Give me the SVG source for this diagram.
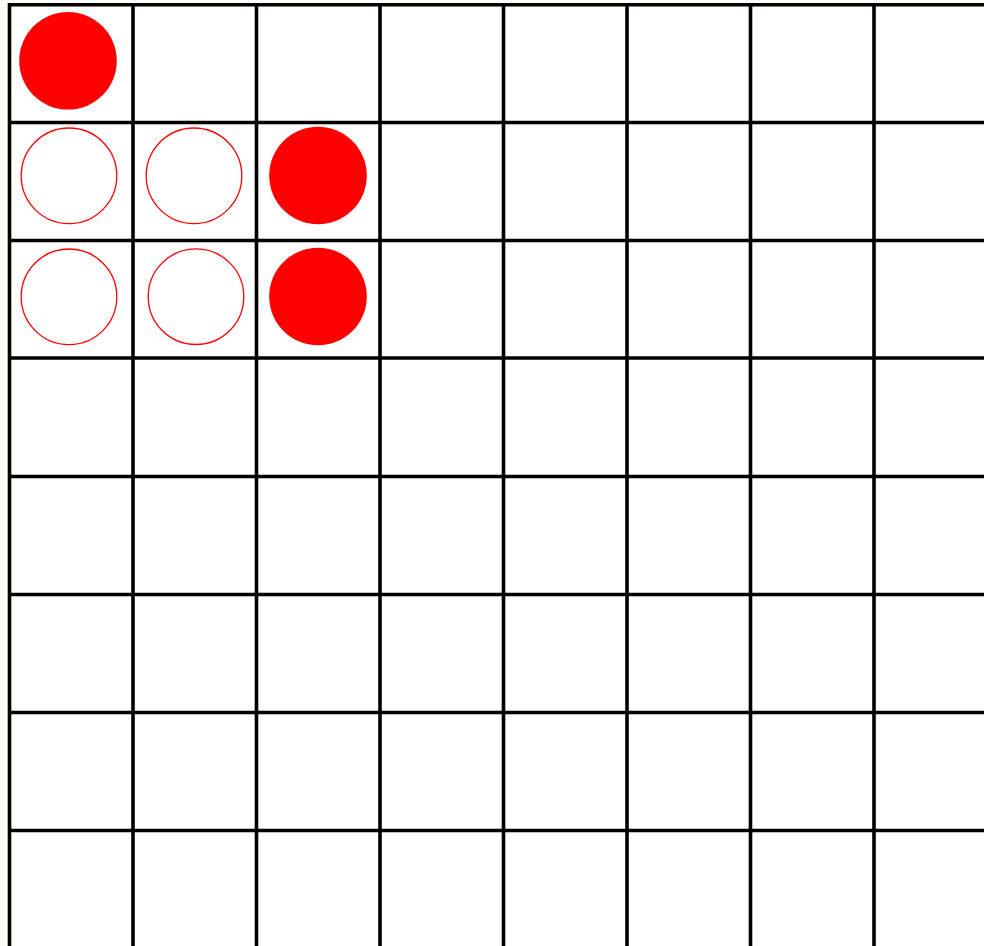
<svg xmlns="http://www.w3.org/2000/svg" width="984" height="946" viewBox="0 0 984 946">
  <style>
    .grid line { stroke: #000; stroke-width: 3.6; }
    .filled { fill: #ff0000; }
    .open { fill: #fff; stroke: #ff0000; stroke-width: 1.3; }
  </style>
  <rect x="0" y="0" width="984" height="946" fill="#fefef9"/>
  <rect x="9.5" y="4.5" width="975" height="942" fill="#ffffff"/>
  <g class="grid" id="grid">
    <line x1="9.5" y1="3" x2="9.5" y2="946"/>
    <line x1="133" y1="3" x2="133" y2="946"/>
    <line x1="256.5" y1="3" x2="256.5" y2="946"/>
    <line x1="380" y1="3" x2="380" y2="946"/>
    <line x1="503.5" y1="3" x2="503.5" y2="946"/>
    <line x1="627" y1="3" x2="627" y2="946"/>
    <line x1="750.5" y1="3" x2="750.5" y2="946"/>
    <line x1="874" y1="3" x2="874" y2="946"/>
    <line x1="8" y1="4.8" x2="984" y2="4.8"/>
    <line x1="8" y1="122.5" x2="984" y2="122.5"/>
    <line x1="8" y1="240.5" x2="984" y2="240.5"/>
    <line x1="8" y1="358" x2="984" y2="358"/>
    <line x1="8" y1="476.5" x2="984" y2="476.5"/>
    <line x1="8" y1="594.5" x2="984" y2="594.5"/>
    <line x1="8" y1="712.5" x2="984" y2="712.5"/>
    <line x1="8" y1="830.5" x2="984" y2="830.5"/>
  </g>
  <g id="pieces">
    <circle id="p00" class="filled" cx="68" cy="60.8" r="48.8"/>
    <circle id="p10" class="open" cx="69" cy="175.8" r="47.8"/>
    <circle id="p11" class="open" cx="194" cy="175.8" r="47.8"/>
    <circle id="p12" class="filled" cx="318" cy="175.5" r="48.8"/>
    <circle id="p20" class="open" cx="69" cy="296.8" r="47.8"/>
    <circle id="p21" class="open" cx="196" cy="296.7" r="47.8"/>
    <circle id="p22" class="filled" cx="318" cy="296.5" r="48.8"/>
  </g>
</svg>
